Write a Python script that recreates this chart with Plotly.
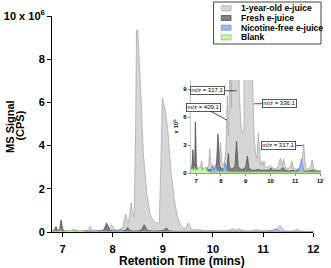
import numpy as np
import plotly.graph_objects as go

# ---------------- data (values in units of 1e5 CPS) ----------------
series_names = ["1-year-old e-juice", "Fresh e-juice", "Nicotine-free e-juice", "Blank"]

old_t = [6.77, 6.82, 6.86, 6.90, 6.95, 7.00, 7.05, 7.15, 7.22, 7.28, 7.35, 7.45, 7.51, 7.55, 7.59,
         7.66, 7.75, 7.85, 7.92, 7.98, 8.04, 8.10, 8.16, 8.20, 8.23, 8.26, 8.29, 8.31, 8.34, 8.37,
         8.40, 8.43, 8.46, 8.475, 8.50, 8.52, 8.54, 8.57, 8.61, 8.68, 8.74, 8.80, 8.87, 8.93, 8.96,
         8.99, 9.03, 9.05, 9.10, 9.16, 9.23, 9.29, 9.34, 9.40, 9.45, 9.51, 9.56, 9.60, 9.65, 9.70,
         9.74, 9.80, 9.90, 10.00, 10.10, 10.20, 10.30, 10.40, 10.46, 10.53, 10.60, 10.70, 10.80,
         10.86, 10.93, 11.05, 11.15, 11.25, 11.34, 11.42, 11.55, 11.62, 11.68, 11.75, 11.85, 11.95, 12.05]
old_v = [0.2, 0.6, 1.0, 0.4, 0.8, 1.0, 0.3, 0.4, 1.3, 0.5, 0.3, 0.4, 1.0, 2.6, 0.8,
         0.5, 0.6, 0.8, 1.2, 3.3, 1.0, 0.8, 1.5, 2.5, 5.5, 8.3, 5.0, 4.0, 8.0, 13.4,
         9.0, 7.0, 52.0, 93.5, 93.5, 84.0, 80.0, 60.0, 36.5, 18.0, 8.8, 5.5, 4.2, 4.2, 30.0,
         62.0, 58.0, 56.0, 47.0, 28.7, 14.8, 7.0, 4.0, 2.0, 1.5, 4.3, 2.0, 0.9, 1.2, 0.8,
         1.3, 0.6, 0.6, 0.8, 0.5, 0.5, 0.6, 1.6, 0.8, 1.5, 0.6, 0.5, 0.6,
         1.3, 0.5, 0.4, 0.5, 0.8, 3.1, 0.6, 0.4, 0.6, 1.4, 0.5, 0.3, 0.2, 0.2]

fresh_t = [6.77, 6.83, 6.87, 6.90, 6.94, 6.97, 7.01, 7.05, 7.15, 7.25, 7.35, 7.45, 7.55, 7.65, 7.75,
           7.82, 7.88, 7.94, 8.00, 8.10, 8.20, 8.26, 8.30, 8.34, 8.42, 8.50, 8.57, 8.63, 8.69, 8.80,
           8.90, 9.00, 9.07, 9.13, 9.25, 9.40, 9.50, 9.60, 9.75, 9.90, 10.03, 10.10, 10.25, 10.40,
           10.50, 10.60, 10.75, 10.90, 11.00, 11.10, 11.18, 11.30, 11.50, 11.70, 11.85, 12.05]
fresh_v = [0.3, 0.6, 2.5, 0.8, 0.8, 5.5, 0.8, 0.4, 0.3, 0.4, 0.3, 0.3, 0.4, 0.3, 0.4,
           0.8, 4.2, 0.8, 0.5, 0.4, 0.5, 0.8, 2.1, 0.7, 0.4, 0.5, 0.8, 3.4, 0.7, 0.4,
           0.4, 0.6, 1.8, 0.5, 0.3, 0.3, 0.4, 0.3, 0.3, 0.3, 0.5, 0.3, 0.3, 0.3,
           0.6, 0.3, 0.2, 0.3, 0.2, 0.3, 0.4, 0.2, 0.2, 0.3, 0.2, 0.2]

nicfree_t = [6.77, 7.30, 7.38, 7.43, 7.48, 7.60, 7.66, 7.72, 7.78, 7.84, 7.95, 8.10, 8.17, 8.23,
             8.40, 9.00, 10.00, 11.00, 11.15, 11.20, 11.25, 11.30, 11.36, 11.50, 12.05]
nicfree_v = [0.1, 0.1, 0.2, 0.6, 0.2, 0.2, 0.9, 0.3, 0.9, 0.3, 0.2, 0.3, 1.1, 0.3,
             0.1, 0.1, 0.1, 0.1, 0.3, 1.0, 1.5, 0.8, 0.2, 0.1, 0.1]

blank_t = [6.77, 6.82, 6.90, 6.95, 7.00, 7.10, 7.18, 7.25, 7.30, 7.38, 7.45, 7.55, 12.05]
blank_v = [0.3, 0.5, 0.3, 0.6, 0.3, 0.5, 0.7, 0.3, 0.5, 0.6, 0.2, 0.1, 0.1]

main_yticks = [0, 2, 4, 6, 8, 10]
main_yticktext = ["0", "2", "4", "6", "8", "10 x 10<sup>6</sup>"]
xticks = [7, 8, 9, 10, 11, 12]
inset_yticks = [0, 3, 6, 9]

annot_labels = ["m/z = 317.1", "m/z = 409.1", "m/z = 336.1", "m/z = 317.1"]

# ---------------- styling ----------------
fills = ["#d6d6d6", "#808080", "#a3b8f2", "#c8f5a8"]
lines = ["#a9a9a9", "#4f4f4f", "#6d86d6", "#7cc85a"]
FONT = "Liberation Sans, Arial, sans-serif"

W, H = 331, 268
ML, MR, MT, MB = 49, 4, 16, 36
PW, PH = W - ML - MR, H - MT - MB


def px2x(px):
    return (px - ML) / PW


def py2y(py):
    return (H - MB - py) / PH


data_t = [old_t, fresh_t, nicfree_t, blank_t]
data_v = [old_v, fresh_v, nicfree_v, blank_v]

fig = go.Figure()
for i in range(4):
    y = np.array(data_v[i]) * 1e5
    for xa, ya in (("x", "y"), ("x2", "y2")):
        fig.add_trace(go.Scatter(
            x=data_t[i], y=y, xaxis=xa, yaxis=ya, mode="lines",
            fill="tozeroy", fillcolor=fills[i],
            line=dict(color=lines[i], width=0.8),
            name=series_names[i], showlegend=False, hoverinfo="skip"))

fig.update_layout(
    width=W, height=H,
    margin=dict(l=ML, r=MR, t=MT, b=MB, pad=0),
    paper_bgcolor="white", plot_bgcolor="white",
    font=dict(family=FONT, color="black"),
    showlegend=False,
    xaxis=dict(domain=[0, px2x(319)], range=[6.79, 12.0], tickvals=xticks,
               showline=True, linecolor="black", linewidth=1, ticks="outside",
               ticklen=4, tickwidth=1, tickcolor="black", showgrid=False, zeroline=False,
               ticklabelstandoff=3,
               tickfont=dict(size=11, weight="bold")),
    yaxis=dict(domain=[0, 1], range=[0, 1e7], tickvals=[v * 1e6 for v in main_yticks],
               ticktext=main_yticktext,
               showline=True, linecolor="black", linewidth=1, ticks="outside",
               ticklen=4, tickwidth=1, tickcolor="black", showgrid=False, zeroline=False,
               tickfont=dict(size=11, weight="bold")),
    xaxis2=dict(domain=[px2x(192), 1.0], range=[6.766, 12.04], anchor="y2",
                tickvals=xticks, showline=True, linecolor="#555", linewidth=0.6,
                ticks="outside", ticklen=2, tickwidth=0.6, tickcolor="#333",
                showgrid=False, zeroline=False,
                tickfont=dict(size=6, weight="bold")),
    yaxis2=dict(domain=[py2y(173), py2y(80)], range=[0, 1e6], anchor="x2",
                tickvals=[v * 1e5 for v in inset_yticks],
                ticktext=[str(v) for v in inset_yticks],
                showline=True, linecolor="#aaa", linewidth=0.6,
                ticks="outside", ticklen=2, tickwidth=0.6, tickcolor="#333",
                showgrid=False, zeroline=False,
                tickfont=dict(size=6, weight="bold"),
                title=dict(text="x 10<sup>5</sup>", font=dict(size=6, weight="bold"),
                           standoff=3)),
)

annotations = []
# x-axis title
annotations.append(dict(text="<b>Retention Time (mins)</b>", xref="paper", yref="paper",
                        x=px2x(183), y=py2y(260.5), showarrow=False,
                        xanchor="center", yanchor="middle",
                        font=dict(size=12, family=FONT)))
# y-axis title (two lines, rotated)
annotations.append(dict(text="<b>MS Signal</b>", xref="paper", yref="paper",
                        x=px2x(5.5), y=py2y(126), textangle=-90, showarrow=False,
                        xanchor="center", yanchor="middle",
                        font=dict(size=11, family=FONT)))
annotations.append(dict(text="<b>(CPS)</b>", xref="paper", yref="paper",
                        x=px2x(15.5), y=py2y(126), textangle=-90, showarrow=False,
                        xanchor="center", yanchor="middle",
                        font=dict(size=11, family=FONT)))

# inset labels with leader lines: (tip x, tip y[1e5], ax, ay)
annot_pos = [(8.64, 8.84, -29, 0), (8.25, 5.68, -24, -13), (9.34, 7.45, 25, 0), (11.3, 2.95, -24, 0)]
for lab, (tx, ty, ax, ay) in zip(annot_labels, annot_pos):
    annotations.append(dict(text=lab, x=tx, y=ty * 1e5, xref="x2", yref="y2",
                            ax=ax, ay=ay, showarrow=True, arrowhead=0, arrowwidth=0.8,
                            arrowcolor="#222", bgcolor="white", bordercolor="#333",
                            borderwidth=0.8, borderpad=0.5,
                            font=dict(size=6, family=FONT, color="black")))

# manual legend
shapes = [dict(type="rect", xref="paper", yref="paper", x0=px2x(216), x1=px2x(327),
               y0=py2y(44), y1=py2y(2), line=dict(color="#444", width=1),
               fillcolor="white", layer="above")]
row_y = [8.3, 18.0, 27.7, 37.4]
for i in range(4):
    shapes.append(dict(type="rect", xref="paper", yref="paper", x0=px2x(224), x1=px2x(234),
                       y0=py2y(row_y[i] + 2.5), y1=py2y(row_y[i] - 2.5),
                       line=dict(color=lines[i], width=0.8), fillcolor=fills[i], layer="above"))
    annotations.append(dict(text="<b>" + series_names[i] + "</b>", xref="paper", yref="paper",
                            x=px2x(242), y=py2y(row_y[i]), xanchor="left", yanchor="middle",
                            showarrow=False, font=dict(size=8.6, family=FONT)))

fig.update_layout(annotations=annotations, shapes=shapes)

fig.write_html("out.html", config={"displayModeBar": False, "staticPlot": True},
               post_script="document.body.style.margin='0';")
